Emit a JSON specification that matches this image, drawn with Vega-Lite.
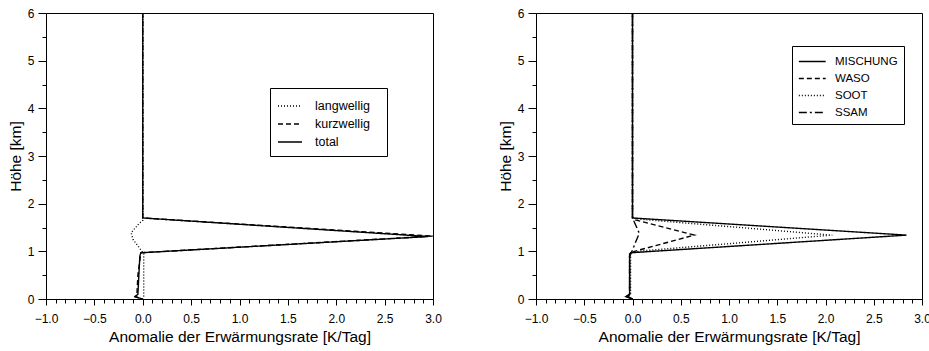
{
  "$schema": "https://vega.github.io/schema/vega-lite/v6.json",
  "background": "white",
  "padding": {"left": 7, "top": 6, "right": 5, "bottom": 2},
  "config": {
    "font": "Liberation Sans",
    "view": {"stroke": "black", "strokeWidth": 1},
    "axis": {"domainColor": "black", "tickColor": "black", "labelColor": "black", "titleColor": "black", "grid": false, "labelFontSize": 12, "titleFontSize": 15.5, "titleFontWeight": "normal", "labelFont": "Liberation Sans", "titleFont": "Liberation Sans", "labelOverlap": false, "labelFlush": false},
    "legend": {"labelFont": "Liberation Sans", "labelColor": "black"},
    "concat": {"spacing": 55}
  },
  "resolve": {"scale": {"strokeDash": "independent"}, "legend": {"strokeDash": "independent"}},
  "hconcat": [
    {
      "width": 387, "height": 286,
      "data": {"values": [
        {"series": "langwellig", "i": 0, "x": 0, "y": 6},
        {"series": "langwellig", "i": 1, "x": 0, "y": 1.65},
        {"series": "langwellig", "i": 2, "x": -0.04, "y": 1.58},
        {"series": "langwellig", "i": 3, "x": -0.12, "y": 1.39},
        {"series": "langwellig", "i": 4, "x": -0.1, "y": 1.25},
        {"series": "langwellig", "i": 5, "x": -0.02, "y": 1.03},
        {"series": "langwellig", "i": 6, "x": 0.01, "y": 0.95},
        {"series": "langwellig", "i": 7, "x": 0.01, "y": 0.05},
        {"series": "langwellig", "i": 8, "x": 0, "y": 0},
        {"series": "kurzwellig", "i": 0, "x": 0, "y": 6},
        {"series": "kurzwellig", "i": 1, "x": 0, "y": 1.7},
        {"series": "kurzwellig", "i": 2, "x": 3.0, "y": 1.32},
        {"series": "kurzwellig", "i": 3, "x": -0.02, "y": 0.97},
        {"series": "kurzwellig", "i": 4, "x": -0.05, "y": 0.5},
        {"series": "kurzwellig", "i": 5, "x": -0.06, "y": 0.1},
        {"series": "kurzwellig", "i": 6, "x": -0.08, "y": 0.05},
        {"series": "kurzwellig", "i": 7, "x": 0, "y": 0},
        {"series": "total", "i": 0, "x": 0, "y": 6},
        {"series": "total", "i": 1, "x": 0, "y": 1.7},
        {"series": "total", "i": 2, "x": 2.95, "y": 1.31},
        {"series": "total", "i": 3, "x": -0.02, "y": 0.97},
        {"series": "total", "i": 4, "x": -0.03, "y": 0.9},
        {"series": "total", "i": 5, "x": -0.04, "y": 0.5},
        {"series": "total", "i": 6, "x": -0.05, "y": 0.1},
        {"series": "total", "i": 7, "x": -0.08, "y": 0.05},
        {"series": "total", "i": 8, "x": -0.02, "y": 0.01},
        {"series": "total", "i": 9, "x": 0, "y": 0}
      ]},
      "mark": {"type": "line", "color": "black", "strokeWidth": 1.4, "clip": true},
      "encoding": {
        "x": {"field": "x", "type": "quantitative", "scale": {"domain": [-1, 3], "nice": false, "zero": false},
          "axis": {"title": "Anomalie der Erwärmungsrate [K/Tag]", "values": [-1,-0.9,-0.8,-0.7,-0.6,-0.5,-0.4,-0.3,-0.2,-0.1,0,0.1,0.2,0.3,0.4,0.5,0.6,0.7,0.8,0.9,1,1.1,1.2,1.3,1.4,1.5,1.6,1.7,1.8,1.9,2,2.1,2.2,2.3,2.4,2.5,2.6,2.7,2.8,2.9,3],
            "labelExpr": "abs(datum.value*2-round(datum.value*2))<0.001 ? format(datum.value,'.1f') : ''",
            "tickSize": {"condition": {"test": "abs(datum.value*2-round(datum.value*2))<0.001", "value": 6}, "value": 4},
            "labelPadding": 8, "titlePadding": 5}},
        "y": {"field": "y", "type": "quantitative", "scale": {"domain": [0, 6], "nice": false, "zero": false},
          "axis": {"title": "Höhe [km]", "values": [0,0.5,1,1.5,2,2.5,3,3.5,4,4.5,5,5.5,6],
            "labelExpr": "abs(datum.value-round(datum.value))<0.001 ? format(datum.value,'d') : ''",
            "tickSize": {"condition": {"test": "abs(datum.value-round(datum.value))<0.001", "value": 8}, "value": 4},
            "labelPadding": 4, "titlePadding": 4}},
        "strokeDash": {"field": "series", "type": "nominal",
          "scale": {"domain": ["langwellig", "kurzwellig", "total"], "range": [[1, 2], [5, 3], [1, 0]]},
          "legend": {"title": null, "orient": "none", "legendX": 224, "legendY": 75, "strokeColor": "black", "fillColor": "white", "padding": 7, "cornerRadius": 0,
            "symbolType": "M-1,0H1.4M8.9,0", "symbolSize": 400, "symbolStrokeWidth": 1.3, "symbolStrokeColor": "black",
            "labelFontSize": 12.5, "labelOffset": 16, "rowPadding": 0}},
        "order": {"field": "i", "type": "quantitative"}
      }
    },
    {
      "width": 386, "height": 286,
      "data": {"values": [
        {"series": "MISCHUNG", "i": 0, "x": 0, "y": 6},
        {"series": "MISCHUNG", "i": 1, "x": 0, "y": 1.7},
        {"series": "MISCHUNG", "i": 2, "x": 2.84, "y": 1.34},
        {"series": "MISCHUNG", "i": 3, "x": -0.02, "y": 0.97},
        {"series": "MISCHUNG", "i": 4, "x": -0.03, "y": 0.9},
        {"series": "MISCHUNG", "i": 5, "x": -0.03, "y": 0.5},
        {"series": "MISCHUNG", "i": 6, "x": -0.03, "y": 0.1},
        {"series": "MISCHUNG", "i": 7, "x": -0.07, "y": 0.05},
        {"series": "MISCHUNG", "i": 8, "x": 0, "y": 0},
        {"series": "WASO", "i": 0, "x": 0, "y": 6},
        {"series": "WASO", "i": 1, "x": 0, "y": 1.72},
        {"series": "WASO", "i": 2, "x": 0.03, "y": 1.66},
        {"series": "WASO", "i": 3, "x": 0.64, "y": 1.34},
        {"series": "WASO", "i": 4, "x": 0.02, "y": 1.0},
        {"series": "WASO", "i": 5, "x": -0.03, "y": 0.95},
        {"series": "WASO", "i": 6, "x": -0.03, "y": 0.1},
        {"series": "WASO", "i": 7, "x": -0.05, "y": 0.04},
        {"series": "WASO", "i": 8, "x": 0, "y": 0},
        {"series": "SOOT", "i": 0, "x": 0, "y": 6},
        {"series": "SOOT", "i": 1, "x": 0, "y": 1.7},
        {"series": "SOOT", "i": 2, "x": 0.1, "y": 1.67},
        {"series": "SOOT", "i": 3, "x": 2.07, "y": 1.34},
        {"series": "SOOT", "i": 4, "x": 0.1, "y": 1.01},
        {"series": "SOOT", "i": 5, "x": -0.02, "y": 0.97},
        {"series": "SOOT", "i": 6, "x": -0.02, "y": 0.1},
        {"series": "SOOT", "i": 7, "x": -0.04, "y": 0.04},
        {"series": "SOOT", "i": 8, "x": 0, "y": 0},
        {"series": "SSAM", "i": 0, "x": 0, "y": 6},
        {"series": "SSAM", "i": 1, "x": 0, "y": 1.7},
        {"series": "SSAM", "i": 2, "x": 0.07, "y": 1.38},
        {"series": "SSAM", "i": 3, "x": -0.01, "y": 0.98},
        {"series": "SSAM", "i": 4, "x": -0.03, "y": 0.9},
        {"series": "SSAM", "i": 5, "x": -0.03, "y": 0.1},
        {"series": "SSAM", "i": 6, "x": -0.06, "y": 0.05},
        {"series": "SSAM", "i": 7, "x": 0, "y": 0}
      ]},
      "mark": {"type": "line", "color": "black", "strokeWidth": 1.4, "clip": true},
      "encoding": {
        "x": {"field": "x", "type": "quantitative", "scale": {"domain": [-1, 3], "nice": false, "zero": false},
          "axis": {"title": "Anomalie der Erwärmungsrate [K/Tag]", "values": [-1,-0.9,-0.8,-0.7,-0.6,-0.5,-0.4,-0.3,-0.2,-0.1,0,0.1,0.2,0.3,0.4,0.5,0.6,0.7,0.8,0.9,1,1.1,1.2,1.3,1.4,1.5,1.6,1.7,1.8,1.9,2,2.1,2.2,2.3,2.4,2.5,2.6,2.7,2.8,2.9,3],
            "labelExpr": "abs(datum.value*2-round(datum.value*2))<0.001 ? format(datum.value,'.1f') : ''",
            "tickSize": {"condition": {"test": "abs(datum.value*2-round(datum.value*2))<0.001", "value": 6}, "value": 4},
            "labelPadding": 8, "titlePadding": 5}},
        "y": {"field": "y", "type": "quantitative", "scale": {"domain": [0, 6], "nice": false, "zero": false},
          "axis": {"title": "Höhe [km]", "values": [0,0.5,1,1.5,2,2.5,3,3.5,4,4.5,5,5.5,6],
            "labelExpr": "abs(datum.value-round(datum.value))<0.001 ? format(datum.value,'d') : ''",
            "tickSize": {"condition": {"test": "abs(datum.value-round(datum.value))<0.001", "value": 8}, "value": 4},
            "labelPadding": 4, "titlePadding": 4}},
        "strokeDash": {"field": "series", "type": "nominal",
          "scale": {"domain": ["MISCHUNG", "WASO", "SOOT", "SSAM"], "range": [[1, 0], [5, 3], [1, 2], [8, 3, 2, 3]]},
          "legend": {"title": null, "orient": "none", "legendX": 256, "legendY": 33, "strokeColor": "black", "fillColor": "white", "padding": 6, "cornerRadius": 0,
            "symbolType": "M-1,0H2.1M9.0,0", "symbolSize": 300, "symbolStrokeWidth": 1.3, "symbolStrokeColor": "black",
            "labelFontSize": 11.5, "labelOffset": 18, "rowPadding": 2}},
        "order": {"field": "i", "type": "quantitative"}
      }
    }
  ]
}
